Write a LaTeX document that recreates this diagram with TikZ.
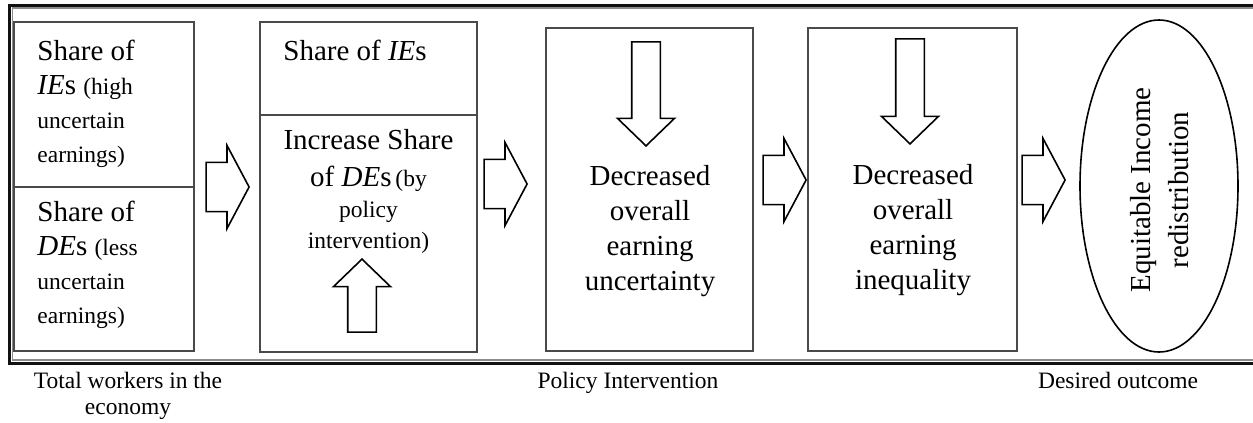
\documentclass[tikz,border=0pt]{standalone}
\usepackage{fontspec}
\setmainfont{Liberation Serif}
\usetikzlibrary{shapes.geometric,shapes.arrows}
\definecolor{Frame}{HTML}{111111}
\definecolor{FrameGray}{HTML}{8C8C8C}
\definecolor{BoxLine}{HTML}{4A4A4A}
\newcommand{\smalltxt}{\fontsize{11.75}{17}\selectfont}

\begin{document}
\begin{tikzpicture}[x=0.5pt,y=-0.5pt,
  stagebox/.style={rectangle,draw=BoxLine,line width=.7pt,inner sep=0pt},
  bigtxt/.style={font=\fontsize{14.5}{17}\selectfont,inner sep=0pt},
  captxt/.style={font=\fontsize{11.75}{13}\selectfont,inner sep=0pt,anchor=base,align=center},
  flowarrow/.style={single arrow,draw=black,fill=white,line width=.8pt,inner xsep=0pt,inner ysep=10pt,
    minimum height=21.5pt,minimum width=41.5pt,single arrow tip angle=124,anchor=tip},
  pusharrow/.style={single arrow,draw=black,fill=white,line width=.8pt,inner sep=6.75pt,
    minimum width=26pt,single arrow tip angle=92,anchor=tip}]
\useasboundingbox (0,0) rectangle (1253,423);
% outer frame, open on the right
\draw[Frame,line width=1.2pt] (1253,5.3) -- (9.5,5.3) -- (9.5,363.5) -- (1253,363.5);
\draw[FrameGray,line width=.6pt] (1253,8) -- (12.5,8) -- (12.5,360) -- (1253,360);
% stages
\node[stagebox,minimum width=90pt,minimum height=82.5pt] (ieshare) at (104,104.5) {};
\node[stagebox,minimum width=90pt,minimum height=82pt] (deshare) at (104,269) {};
\node[stagebox,minimum width=108.5pt,minimum height=46.5pt] (ieshareb) at (368.5,68.5) {};
\node[stagebox,minimum width=108.5pt,minimum height=118.5pt] (deraise) at (368.5,233.5) {};
\node[stagebox,minimum width=103.5pt,minimum height=161.5pt] (uncert) at (649.5,189.5) {};
\node[stagebox,minimum width=104.5pt,minimum height=161.5pt] (inequal) at (912.5,189.5) {};
\node[ellipse,draw=black,line width=.8pt,inner sep=0pt,minimum width=79pt,minimum height=166pt] (outcome) at (1159,186) {};
% texts (base = last line)
\node[bigtxt,anchor=base west,align=left] (ieshare-t) at (37,162)
  {Share of\\\textit{IE}s {\smalltxt(high}\\{\smalltxt uncertain}\\{\smalltxt earnings)}};
\node[bigtxt,anchor=base west,align=left] (deshare-t) at (37,323)
  {Share of\\\textit{DE}s {\smalltxt(less}\\{\smalltxt uncertain}\\{\smalltxt earnings)}};
\node[bigtxt,anchor=base west] (ieshareb-t) at (283,60) {Share of \textit{IE}s};
\node[bigtxt,anchor=base,align=center,font=\fontsize{14.5}{15.5}\selectfont] (deraise-t) at (368.5,248)
  {Increase Share\\[3pt]of \textit{DE}s{\smalltxt\,(by}\\{\smalltxt policy}\\{\smalltxt intervention)}};
\node[bigtxt,anchor=base,align=center,font=\fontsize{14.5}{17.5}\selectfont] (uncert-t) at (650,290)
  {Decreased\\overall\\earning\\uncertainty};
\node[bigtxt,anchor=base,align=center,font=\fontsize{14.5}{17.5}\selectfont] (inequal-t) at (913,289)
  {Decreased\\overall\\earning\\inequality};
\node[bigtxt,rotate=90,align=center,font=\fontsize{14.5}{19}\selectfont] (outcome-t) at (1160,190)
  {Equitable Income\\redistribution};
% block arrows between the stages
\node[flowarrow] (arr1) at (250,187) {};
\node[flowarrow] (arr2) at (528,184) {};
\node[flowarrow] (arr3) at (807,180) {};
\node[flowarrow] (arr4) at (1066,180) {};
\node[pusharrow,minimum height=36.5pt,shape border rotate=90] (push) at (362,258) {};
\node[pusharrow,minimum height=52pt,shape border rotate=270] (drop1) at (646,147) {};
\node[pusharrow,minimum height=52.5pt,shape border rotate=270] (drop2) at (910,145) {};
% captions
\node[captxt] (cap1) at (128,414) {Total workers in the\\economy};
\node[captxt] (cap2) at (628,388) {Policy Intervention};
\node[captxt] (cap3) at (1118,388) {Desired outcome};
\end{tikzpicture}
\end{document}
